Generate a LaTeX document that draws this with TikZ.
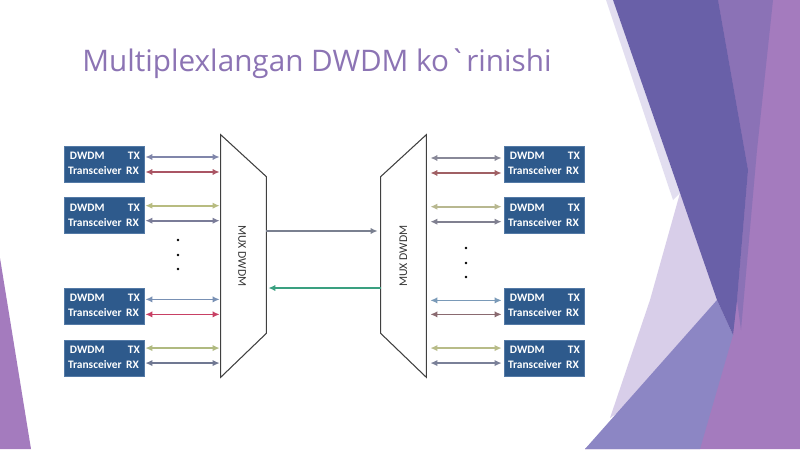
\documentclass[tikz,border=0pt]{standalone}
\usepackage{fontspec}
\setmainfont{Carlito}
\newfontfamily\titlefont{Open Sans}
\usetikzlibrary{positioning,arrows.meta,calc}

% colours
\definecolor{titlepurple}{RGB}{140,116,180}
\definecolor{boxblue}{RGB}{46,90,140}
\definecolor{boxedge}{RGB}{84,122,166}
\definecolor{bgdark}{RGB}{105,96,168}
\definecolor{bgmid}{RGB}{139,114,182}
\definecolor{bglight}{RGB}{164,123,190}
\definecolor{bgblue}{RGB}{140,134,196}
\definecolor{bgpale}{RGB}{216,206,233}
\definecolor{bgband}{RGB}{226,222,240}
% channel arrows, left side
\definecolor{lA}{RGB}{128,134,170}
\definecolor{lB}{RGB}{170,85,100}
\definecolor{lC}{RGB}{184,188,128}
\definecolor{lD}{RGB}{122,124,152}
\definecolor{lE}{RGB}{120,144,180}
\definecolor{lF}{RGB}{200,64,100}
\definecolor{lG}{RGB}{176,186,128}
\definecolor{lH}{RGB}{112,120,146}
% channel arrows, right side
\definecolor{rA}{RGB}{136,136,152}
\definecolor{rB}{RGB}{160,96,100}
\definecolor{rC}{RGB}{184,184,144}
\definecolor{rD}{RGB}{128,128,144}
\definecolor{rE}{RGB}{122,154,184}
\definecolor{rF}{RGB}{138,106,112}
\definecolor{rG}{RGB}{184,188,136}
\definecolor{rH}{RGB}{122,128,152}
\definecolor{trunkgray}{RGB}{122,128,144}
\definecolor{trunkgreen}{RGB}{58,160,128}

\newcommand{\trxlabel}{\begin{tabular}{@{}l@{\hspace{2.5pt}}l@{}}\,DWDM & \,TX\\ Transceiver & RX\end{tabular}}

\begin{document}
\begin{tikzpicture}[
  x=0.02cm, y=-0.02cm,
  >={Latex[length=4pt,width=3.6pt]},
  trx/.style={draw=boxedge, fill=boxblue, text=white, minimum width=1.6cm,
    minimum height=0.72cm, inner sep=0pt, font=\bfseries\fontsize{6.5}{8.5}\selectfont},
  mux/.style={minimum width=0.9cm, minimum height=4.84cm, inner sep=0pt},
  muxline/.style={draw=black!75, line width=0.6pt},
  muxlabel/.style={font=\fontsize{6.7}{8}\selectfont, text=black!80},
  link/.style={<->, line width=1pt},
  trunk/.style={->, line width=1pt},
  dot/.style={circle, fill=black, inner sep=0pt, minimum size=1.6pt}
]
\useasboundingbox (0,0) rectangle (800,449);

% background
\fill[white] (0,0) rectangle (800,449);
\fill[bglight] (718,0) -- (800,0) -- (800,449) -- (585,449) -- (733,335) -- cycle;
\fill[bgmid] (718,0) -- (773,0) -- (757,150) -- (741,330) -- (737,300) -- (748,170) -- cycle;
\fill[bgband] (606,0) -- (613,0) -- (680,193) -- (673,200) -- cycle;
\fill[bgpale] (680,193) -- (733,335) -- (610,418) -- (650,300) -- cycle;
\fill[bgblue] (585,449) -- (717,300) -- (733,335) -- (700,449) -- cycle;
\fill[bgdark] (613,0) -- (718,0) -- (748,170) -- (737,300) -- (733,335) -- (717,300) -- (680,193) -- cycle;
\fill[bglight] (0,258) -- (31,449) -- (0,449) -- cycle;

% title
\node[anchor=base west, inner sep=0pt, text=titlepurple,
  font=\titlefont\fontsize{16.9}{20}\selectfont] (title) at (82,72)
  {Multiplexlangan DWDM ko\textasciigrave rinishi};

% transceivers, left
\node[trx] (b1) at (104,164) {\trxlabel};
\node[trx, below=0.3cm of b1] (b2) {\trxlabel};
\node[trx, below=1.08cm of b2] (b3) {\trxlabel};
\node[trx, below=0.3cm of b3] (b4) {\trxlabel};

% transceivers, right
\node[trx] (r1) at (544,164) {\trxlabel};
\node[trx, below=0.3cm of r1] (r2) {\trxlabel};
\node[trx, below=1.08cm of r2] (r3) {\trxlabel};
\node[trx, below=0.3cm of r3] (r4) {\trxlabel};

% multiplexers
\node[mux] (muxL) at (243.5,256) {};
\draw[muxline] (muxL.north west) -- ([yshift=-0.84cm]muxL.north east)
  -- ([yshift=0.88cm]muxL.south east) -- (muxL.south west) -- cycle;
\node[muxlabel, rotate=-90] (muxLtext) at ([xshift=-0.03cm]muxL.center) {MUX DWDM};

\node[mux] (muxR) at (403.5,256) {};
\draw[muxline] (muxR.north east) -- ([yshift=-0.84cm]muxR.north west)
  -- ([yshift=0.88cm]muxR.south west) -- (muxR.south east) -- cycle;
\node[muxlabel, rotate=90] (muxRtext) at (muxR.center) {MUX DWDM};

% channels
\foreach \b/\ya/\yb/\ca/\cb in {b1/-7/8/lA/lB, b2/-10/5/lC/lD, b3/-7/8/lE/lF, b4/-10/5/lG/lH} {
  \draw[link, \ca] ($(\b.east)+(1,\ya)$) -- ($(\b.east -| muxL.west)+(-1,\ya)$);
  \draw[link, \cb] ($(\b.east)+(1,\yb)$) -- ($(\b.east -| muxL.west)+(-1,\yb)$);
}
\foreach \b/\ya/\yb/\ca/\cb in {r1/-6/9/rA/rB, r2/-9/6/rC/rD, r3/-6/8/rE/rF, r4/-10/5/rG/rH} {
  \draw[link, \ca] ($(\b.west -| muxR.east)+(4,\ya)$) -- ($(\b.west)+(-2,\ya)$);
  \draw[link, \cb] ($(\b.west -| muxR.east)+(4,\yb)$) -- ($(\b.west)+(-2,\yb)$);
}

% trunk between the multiplexers
\draw[trunk, trunkgray] ($(muxL.east)+(0,-25)$) -- ($(muxR.west)+(-3,-25)$);
\draw[trunk, trunkgreen] ($(muxR.west)+(0,32)$) -- ($(muxL.east)+(2,32)$);

% dots
\foreach \i/\y in {1/240, 2/255, 3/269} {
  \node[dot] (dl\i) at (178,\y) {};
}
\foreach \i/\y in {1/248, 2/263, 3/277} {
  \node[dot] (dr\i) at (466,\y) {};
}

\end{tikzpicture}
\end{document}
